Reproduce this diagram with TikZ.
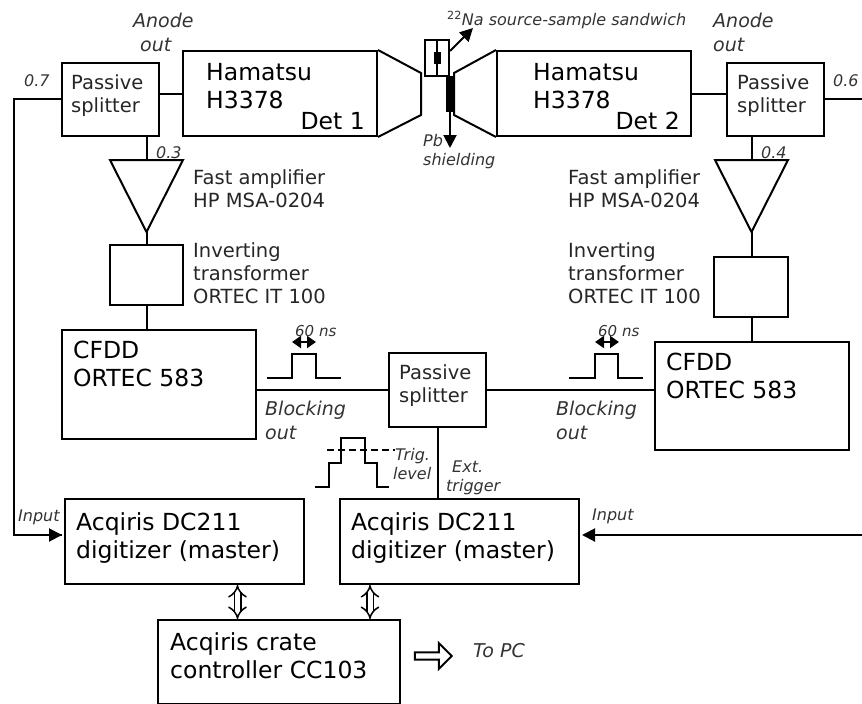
\documentclass[tikz,border=0pt]{standalone}
\usepackage{fontspec}
\setmainfont{DejaVu Sans}
\usetikzlibrary{arrows.meta,shapes.arrows}
\definecolor{labelgray}{gray}{.2}
\tikzset{
  pbox/.style 2 args={draw,line width=2pt,minimum width=#1pt,minimum height=#2pt,inner sep=0pt},
  wire/.style={line width=2pt},
  feed/.style={line width=2pt,-{Triangle[length=13pt,width=13pt]}},
  bus/.style={line width=1.5pt,double,double distance=5pt,{Implies}-{Implies}},
  big/.style={anchor=north west,align=left,inner sep=0pt,font=\fontsize{23.5}{28}\selectfont},
  mid/.style={anchor=north west,align=left,inner sep=0pt,text=black!85,font=\fontsize{19.5}{23}\selectfont},
  note/.style={anchor=north west,align=left,inner sep=0pt,text=labelgray,font=\fontsize{19}{23.5}\selectfont\itshape},
  tiny/.style={anchor=north west,align=left,inner sep=0pt,text=labelgray,font=\fontsize{16}{19}\selectfont\itshape},
}
\begin{document}
\begin{tikzpicture}[x=1pt,y=-1pt]
\useasboundingbox (0,0) rectangle (862,704);
% top row
\node[pbox={97.5}{73}] (split1) at (110.25,99.5) {};
\node[pbox={194}{85}] (det1) at (280,93.5) {};
\node[pbox={194}{85}] (det2) at (594,93.5) {};
\node[pbox={97}{73}] (split2) at (775.5,99.5) {};
\coordinate (out1) at (14,99);
\coordinate (out2) at (862,99);
\draw[wire] (det1.north east)--(421,73)--(421,115)--(det1.south east);
\draw[wire] (det2.north west)--(454,73)--(454,115)--(det2.south west);
\draw[wire] (split1.east |- det1.west)--(det1.west);
\draw[wire] (det2.east)--(split2.west |- det2.east);
% source and shielding
\node[pbox={24}{36}] (source) at (437,58) {};
\node[fill=black,minimum width=7pt,minimum height=12pt,inner sep=0pt] (foil) at (437,58) {};
\draw[wire] (source.north)--(source.south);
\node[fill=black,minimum width=8pt,minimum height=36pt,inner sep=0pt] (shield) at (450,94) {};
\coordinate (srcend) at (473,28);
\coordinate (pbend) at (450,148);
\draw[feed] (450,51)--(srcend);
\draw[feed] (shield.south)--(pbend);
% amplifiers
\coordinate (amp1) at (146.5,160);
\coordinate (tip1) at (146.5,232);
\coordinate (amp2) at (751.5,160);
\coordinate (tip2) at (751.5,232);
\draw[wire,line join=miter] (110,160)--(183,160)--(tip1)--cycle;
\draw[wire,line join=miter] (715,160)--(788,160)--(tip2)--cycle;
\node[pbox={73}{60}] (xfmr1) at (146.5,275) {};
\node[pbox={74}{60}] (xfmr2) at (751,287) {};
\node[pbox={194}{109}] (cfdd1) at (158.5,384.5) {};
\node[pbox={194}{108}] (cfdd2) at (752,396) {};
\node[pbox={97}{74}] (split3) at (437.5,390) {};
\draw[wire] (split1.south -| amp1)--(amp1);
\draw[wire] (split2.south -| amp2)--(amp2);
\draw[wire] (tip1)--(xfmr1.north);
\draw[wire] (tip2)--(xfmr2.north -| tip2);
\draw[wire] (xfmr1.south)--(cfdd1.north -| xfmr1.south);
\draw[wire] (xfmr2.south -| tip2)--(cfdd2.north -| tip2);
\draw[wire] (cfdd1.east |- split3.west)--(split3.west);
\draw[wire] (split3.east)--(cfdd2.west |- split3.east);
% digitizers
\node[pbox={239}{85}] (dig1) at (184.5,541.5) {};
\node[pbox={239}{85}] (dig2) at (459.5,541.5) {};
\node[pbox={242}{84}] (crate) at (279,662) {};
\draw[wire] (split3.south)--(dig2.north -| split3.south);
\coordinate (in1) at (62,535);
\coordinate (in2) at (582,535);
\draw[wire] (split1.west |- out1)--(out1)--(out1 |- in1)--(in1);
\draw[feed] (out1 |- in1)--(in1);
\draw[feed] (out2 |- in2)--(in2);
\draw[bus] (dig1.south -| 237.5,0)--(crate.north -| 237.5,0);
\draw[bus] (dig2.south -| 370,0)--(crate.north -| 370,0);
\node[single arrow,draw,line width=2pt,minimum height=37pt,minimum width=26pt,single arrow head extend=6.5pt,inner sep=1.5pt] (topc) at (431.5,656) {};
\draw[wire] (split2.east |- out2)--(out2);
% pulses
\draw[wire] (267,378)--(292,378)--(292,354)--(316,354)--(316,378)--(341,378);
\draw[wire] (569,378)--(595,378)--(595,354)--(618,354)--(618,378)--(643,378);
\draw[wire,{Triangle[length=9pt,width=12pt]}-{Triangle[length=9pt,width=12pt]}] (292,342)--(316,342);
\draw[wire,{Triangle[length=9pt,width=12pt]}-{Triangle[length=9pt,width=12pt]}] (595,342)--(619,342);
\draw[wire] (315,487)--(329,487)--(329,463)--(341,463)--(341,438)--(365,438)--(365,463)--(377,463)--(377,487)--(389,487);
\draw[wire,dashed,dash pattern=on 7pt off 4pt] (327,450)--(395,450);
% texts
\node[big] (t1) at (206,63) {Hamatsu\\H3378};
\node[big] (t2) at (533,63) {Hamatsu\\H3378};
\node[big,anchor=north east] (t3) at (365,112) {Det 1};
\node[big,anchor=north east] (t4) at (680,112) {Det 2};
\node[big] (t5) at (73,341) {CFDD\\ORTEC 583};
\node[big] (t6) at (666,353) {CFDD\\ORTEC 583};
\node[big] (t7) at (76,512) {Acqiris DC211\\digitizer (master)};
\node[big] (t8) at (351,512) {Acqiris DC211\\digitizer (master)};
\node[big] (t9) at (170,632) {Acqiris crate\\controller CC103};
\node[mid] (t10) at (71,74) {Passive\\splitter};
\node[mid] (t11) at (737,74) {Passive\\splitter};
\node[mid] (t12) at (399,364) {Passive\\splitter};
\node[mid] (t13) at (193,169) {Fast amplifier\\HP MSA-0204};
\node[mid] (t14) at (568,169) {Fast amplifier\\HP MSA-0204};
\node[mid] (t15) at (193,242) {Inverting\\transformer\\ORTEC IT 100};
\node[mid] (t16) at (568,242) {Inverting\\transformer\\ORTEC IT 100};
\node[note] (t17) at (133,13) {Anode\\\hspace*{7pt}out};
\node[note] (t18) at (713,13) {Anode\\out};
\node[note] (t19) at (265,401) {Blocking\\out};
\node[note] (t20) at (556,401) {Blocking\\out};
\node[note] (t21) at (473,643) {To PC};
\node[tiny] (t22) at (24,74) {0.7};
\node[tiny] (t23) at (156,146) {0.3};
\node[tiny] (t24) at (833,74) {0.6};
\node[tiny] (t25) at (761,146) {0.4};
\node[tiny] (t26) at (18,510) {Input};
\node[tiny] (t27) at (592,509) {Input};
\node[tiny,font=\fontsize{15}{19}\selectfont\itshape] (t28) at (295,325) {60 ns};
\node[tiny,font=\fontsize{15}{19}\selectfont\itshape] (t29) at (598,325) {60 ns};
\node[tiny] (t30) at (393,448) {\hspace*{2pt}Trig.\\level};
\node[tiny] (t31) at (446,461) {\hspace*{6pt}Ext.\\trigger};
\node[tiny] (t32) at (423,134) {Pb\\shielding};
\node[tiny] (t33) at (447,11) {{\upshape\textsuperscript{22}}Na source-sample sandwich};
\end{tikzpicture}
\end{document}
